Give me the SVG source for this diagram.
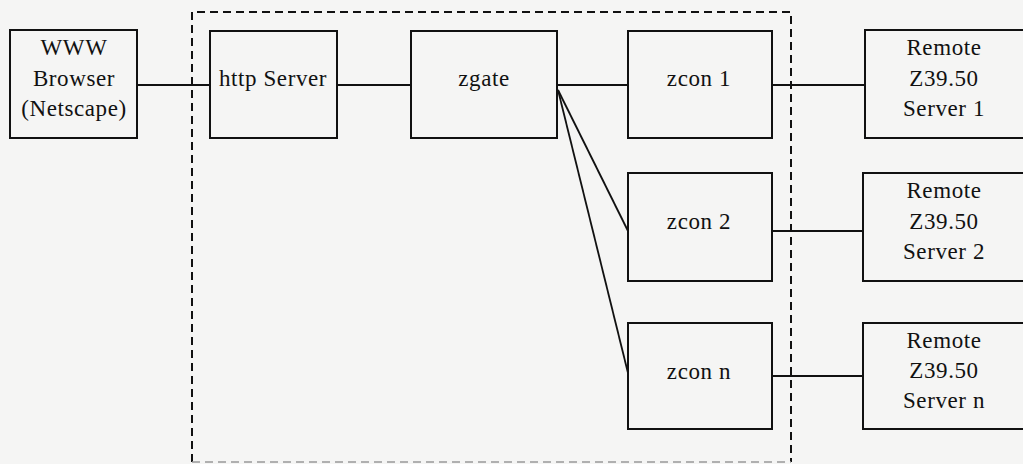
<svg xmlns="http://www.w3.org/2000/svg" width="1023" height="464" viewBox="0 0 1023 464">
<style>
.box{fill:none;stroke:#111;stroke-width:2}
.ln{fill:none;stroke:#111;stroke-width:1.8}
.dash{fill:none;stroke:#111;stroke-width:2;stroke-dasharray:8 5}
text{font-family:"Liberation Serif","Times New Roman",serif;font-size:23px;letter-spacing:0.6px;fill:#111;text-anchor:middle}
</style>
<rect width="1023" height="464" fill="#f5f5f4"/>
<g id="boundary">
<path class="dash" d="M192,462 V12 H791 V462"/>
<path d="M192,462 H791" fill="none" stroke="#999" stroke-width="1.5" stroke-dasharray="8 5"/>
</g>
<g id="connectors">
<line class="ln" x1="137" y1="85" x2="210" y2="85"/>
<line class="ln" x1="337" y1="85" x2="411" y2="85"/>
<line class="ln" x1="557" y1="85" x2="628" y2="85"/>
<line class="ln" x1="772" y1="85" x2="865" y2="85"/>
<line class="ln" x1="558" y1="90" x2="628" y2="231"/>
<line class="ln" x1="558" y1="90" x2="628" y2="373"/>
<line class="ln" x1="772" y1="231" x2="863" y2="231"/>
<line class="ln" x1="772" y1="376" x2="863" y2="376"/>
</g>
<g id="browser">
<rect class="box" x="10" y="30" width="127" height="108"/>
<text x="74" y="55">WWW</text>
<text x="74" y="86">Browser</text>
<text x="74" y="116">(Netscape)</text>
</g>
<g id="http-server">
<rect class="box" x="210" y="31" width="127" height="107"/>
<text x="273" y="86">http Server</text>
</g>
<g id="zgate">
<rect class="box" x="411" y="31" width="146" height="107"/>
<text x="484" y="86">zgate</text>
</g>
<g id="zcon1">
<rect class="box" x="628" y="31" width="144" height="107"/>
<text x="699" y="86">zcon 1</text>
</g>
<g id="zcon2">
<rect class="box" x="628" y="173" width="144" height="108"/>
<text x="699" y="229">zcon 2</text>
</g>
<g id="zconn">
<rect class="box" x="628" y="323" width="144" height="106"/>
<text x="699" y="379">zcon n</text>
</g>
<g id="remote1">
<rect class="box" x="865" y="30" width="170" height="108"/>
<text x="944" y="55">Remote</text>
<text x="944" y="86">Z39.50</text>
<text x="944" y="116">Server 1</text>
</g>
<g id="remote2">
<rect class="box" x="863" y="173" width="172" height="108"/>
<text x="944" y="198">Remote</text>
<text x="944" y="229">Z39.50</text>
<text x="944" y="259">Server 2</text>
</g>
<g id="remoten">
<rect class="box" x="863" y="323" width="172" height="106"/>
<text x="944" y="348">Remote</text>
<text x="944" y="378">Z39.50</text>
<text x="944" y="408">Server n</text>
</g>
</svg>
